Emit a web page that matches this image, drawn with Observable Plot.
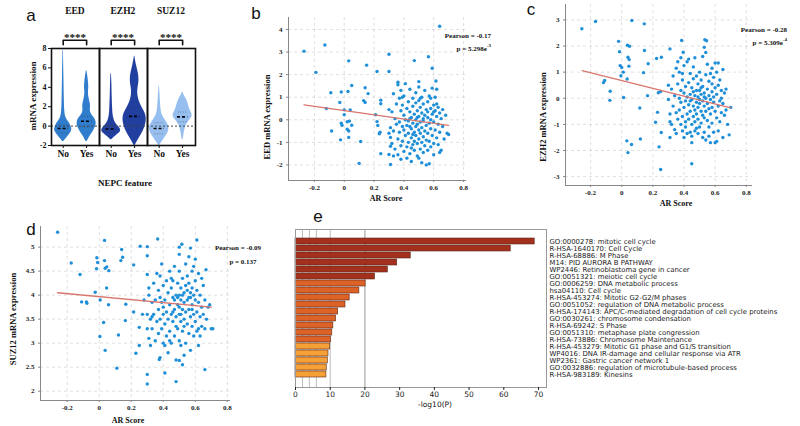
<!DOCTYPE html>
<html><head><meta charset="utf-8">
<script src="https://cdn.jsdelivr.net/npm/d3@7"></script>
<script src="https://cdn.jsdelivr.net/npm/@observablehq/plot@0.6"></script>
<style>
body{margin:0;background:#fff;}
#root{position:relative;width:800px;height:426px;overflow:hidden;background:#fff;}
.p{position:absolute;}
.t{position:absolute;white-space:nowrap;font-family:"Liberation Serif",serif;font-weight:bold;color:#111;line-height:1;}
.lt{position:absolute;white-space:nowrap;font-family:"Liberation Sans",Arial,sans-serif;font-size:17px;color:#111;line-height:1;}
</style></head><body><div id="root"></div>
<script>
// ---------------- Panel a: violin data ----------------
const genes = ["EED", "EZH2", "SUZ12"];
const groups = ["No", "Yes"];
const sigLabels = ["****", "****", "****"];
// [expression, half-width] profiles
const eedNo = [[-1.6,0.02],[-1.2,0.15],[-0.8,0.3],[-0.4,0.38],[-0.2,0.36],[0.2,0.3],[0.5,0.2],[0.9,0.1],[1.5,0.06],[3,0.045],[5,0.03],[7.8,0.01]];
const eedYes = [[-1.6,0.02],[-1,0.15],[-0.5,0.3],[0,0.4],[0.4,0.42],[0.8,0.35],[1.2,0.2],[1.6,0.14],[2.0,0.18],[2.4,0.15],[3,0.09],[3.5,0.07],[4.0,0.1],[4.5,0.08],[5.0,0.06],[5.7,0.01]];
const ezh2No = [[-1.4,0.02],[-1,0.2],[-0.6,0.42],[-0.3,0.4],[0,0.3],[0.4,0.15],[1,0.08],[1.8,0.06],[3,0.04],[4.5,0.03],[5.4,0.01]];
const ezh2Yes = [[-2,0.02],[-1.2,0.2],[-0.5,0.38],[0,0.45],[0.5,0.5],[1,0.5],[1.5,0.42],[2,0.3],[2.5,0.2],[3,0.15],[3.5,0.12],[4,0.15],[4.8,0.2],[5.5,0.16],[6.2,0.08],[7.2,0.01]];
const suz12No = [[-2,0.02],[-1.5,0.15],[-1,0.3],[-0.5,0.42],[0,0.42],[0.5,0.3],[1,0.15],[1.5,0.08],[2.5,0.05],[3.5,0.03],[4.1,0.01]];
const suz12Yes = [[-1.4,0.02],[-0.8,0.06],[0,0.12],[0.5,0.25],[0.9,0.42],[1.3,0.4],[1.7,0.3],[2.2,0.25],[2.6,0.2],[3,0.1],[3.5,0.01]];
const violinMedians = [-0.25, 0.5, -0.3, 1.0, -0.25, 0.95];
const violinQ1 = [-0.7, -0.1, -0.65, 0.1, -0.8, 0.45];
const violinQ3 = [0.1, 1.0, 0.05, 1.9, 0.35, 1.45];

// ---------------- Panels b, c, d: scatter data [AR score, expression] ----------------
const eedPoints = [
[-0.27,3.04],[-0.13,3.31],[-0.19,2.10],[0.03,2.61],[-0.12,0.50],[-0.09,1.20],[-0.085,-0.50],[-0.02,1.23],[-0.03,0.77],[-0.02,-0.15],[-0.015,-0.24],[-0.025,-0.89],[0.0,0.44],[0.0,0.22],[0.025,1.25],[0.05,1.52],[0.04,0.44],[0.02,-0.09],[0.035,-0.06],[0.05,-0.24],[0.02,-0.42],[0.03,-0.50],[0.03,-0.78],[0.15,2.42],[0.14,1.42],[0.16,1.16],[0.13,0.85],[0.14,0.77],[0.11,-0.96],[0.10,-1.93],[0.22,2.14],[0.21,0.22],[0.22,-0.08],[0.225,-0.25],[0.245,0.87],[0.245,0.71],[0.24,-0.55],[0.235,-0.62],[0.245,-1.50],[0.30,2.90],[0.30,2.14],[0.31,-1.17],[0.30,-1.54],[0.31,-1.98],[0.64,4.14],[0.47,2.62],[0.565,2.79],[0.59,2.28],[0.36,1.66],[0.50,1.69],[0.615,1.72],
[0.30,0.45],[0.31,-0.35],[0.31,-0.78],[0.32,0.35],[0.32,-1.05],[0.33,1.15],[0.33,-0.5],[0.34,0.05],[0.34,-1.3],[0.35,0.7],[0.35,-0.2],[0.36,-0.85],[0.36,1.55],[0.36,-1.55],[0.30,-0.6],[0.33,-1.6],
[0.37,0.95],[0.37,-0.1],[0.37,-0.55],[0.38,1.3],[0.38,0.4],[0.38,-1.15],[0.39,-0.3],[0.39,0.65],[0.39,-0.95],[0.40,1.05],[0.40,0.2],[0.40,-0.45],[0.40,-1.4],[0.41,0.0],[0.41,-0.7],[0.41,1.6],[0.42,0.5],[0.42,-0.25],[0.42,-1.2],[0.42,-1.7],[0.38,-1.75],[0.39,1.0],
[0.43,0.8],[0.43,-0.05],[0.43,-0.6],[0.43,-1.0],[0.44,0.35],[0.44,-0.3],[0.44,-1.5],[0.44,1.35],[0.45,0.1],[0.45,-0.8],[0.45,-0.4],[0.45,-1.85],[0.46,0.6],[0.46,-0.15],[0.46,-1.1],[0.46,0.95],[0.47,0.25],[0.47,-0.55],[0.47,-0.95],[0.47,-1.35],[0.48,0.0],[0.48,-0.3],[0.48,-0.7],[0.48,0.75],[0.48,1.2],[0.45,-1.25],[0.46,-0.65],[0.44,0.05],
[0.49,0.4],[0.49,-0.2],[0.49,-1.05],[0.49,-1.6],[0.50,0.15],[0.50,-0.45],[0.50,-0.85],[0.50,1.45],[0.50,0.85],[0.51,-0.1],[0.51,0.55],[0.51,-1.3],[0.51,-0.6],[0.52,0.3],[0.52,-0.35],[0.52,-1.0],[0.52,1.0],[0.53,-0.05],[0.53,0.7],[0.53,-0.75],[0.53,-1.45],[0.54,0.2],[0.54,-0.5],[0.54,-1.15],[0.54,1.3],[0.50,-1.7],[0.52,-1.9],[0.49,0.1],[0.51,0.95],[0.53,0.05],
[0.55,0.45],[0.55,-0.25],[0.55,-0.9],[0.55,-2.0],[0.56,0.1],[0.56,0.8],[0.56,-0.6],[0.56,-1.35],[0.57,1.05],[0.57,-0.15],[0.57,-0.95],[0.57,-1.95],[0.58,0.5],[0.58,-0.4],[0.58,-1.2],[0.58,0.95],[0.59,0.25],[0.59,-0.7],[0.59,1.4],[0.60,-0.1],[0.60,0.65],[0.60,-1.05],[0.60,-1.55],[0.56,0.35],[0.58,0.0],
[0.61,0.4],[0.61,-0.45],[0.61,1.0],[0.62,0.15],[0.62,-0.8],[0.62,0.7],[0.63,-0.2],[0.63,-1.1],[0.63,0.55],[0.64,0.3],[0.64,-0.55],[0.65,-1.35],[0.65,0.05],[0.66,0.45],[0.66,-0.3],[0.67,-0.85],[0.68,0.2],[0.69,-0.6],[0.70,-0.65],[0.62,1.35],[0.64,-1.45],[0.60,0.35]
];
const ezh2Points = [
[-0.256,2.66],[-0.168,2.94],[0.065,2.98],[0.145,2.85],[-0.02,2.18],[0.037,2.03],[0.05,1.99],[-0.014,1.78],[0.146,1.83],[0.04,1.57],[0.048,1.48],[0.224,1.52],[0.255,1.57],[0.17,1.32],[-0.01,1.25],[0.0,1.18],[0.046,1.23],[0.01,1.0],[0.14,0.98],[-0.005,0.86],[0.035,0.74],[-0.11,0.68],[-0.117,0.6],[-0.074,0.27],[-0.076,-0.08],[0.012,0.03],[0.166,0.1],[0.235,0.21],[0.25,0.26],[0.116,-0.37],[0.23,-0.54],[0.217,-0.92],[0.254,-1.31],[0.033,-1.63],[0.12,-1.56],[0.063,-1.77],[0.04,-2.08],[0.24,-1.86],[0.25,-2.73],[0.45,-2.51],[0.31,1.89],[0.385,2.21],[0.534,2.24],[0.545,2.2],[0.395,1.76],
[0.30,0.5],[0.30,-0.05],[0.31,-0.6],[0.31,-0.9],[0.32,0.35],[0.32,-1.0],[0.33,-0.3],[0.33,0.85],[0.34,-1.2],[0.34,0.1],[0.35,1.15],[0.35,-0.55],[0.36,0.55],[0.36,-0.8],[0.36,1.4],[0.31,-1.5],[0.35,-1.35],
[0.37,0.0],[0.37,-0.45],[0.37,1.0],[0.38,0.3],[0.38,-1.0],[0.38,-0.15],[0.38,1.55],[0.39,0.7],[0.39,-0.7],[0.39,-1.25],[0.40,0.2],[0.40,-0.35],[0.40,1.25],[0.40,-1.5],[0.41,0.45],[0.41,-0.9],[0.41,-0.1],[0.42,1.4],[0.42,-0.6],[0.42,0.05],[0.42,-1.35],[0.39,0.95],[0.41,-1.1],
[0.43,0.6],[0.43,-0.25],[0.43,-0.8],[0.43,1.5],[0.44,0.15],[0.44,-0.5],[0.44,-1.3],[0.44,0.95],[0.45,-0.05],[0.45,-1.0],[0.45,0.4],[0.45,-1.45],[0.46,0.75],[0.46,-0.3],[0.46,-0.7],[0.46,1.2],[0.47,0.1],[0.47,-0.9],[0.47,-0.45],[0.47,1.55],[0.48,0.3],[0.48,-0.15],[0.48,-1.15],[0.48,-0.6],[0.48,0.85],[0.44,-0.1],[0.46,0.25],[0.45,-1.7],[0.47,-1.25],
[0.49,0.05],[0.49,-0.35],[0.49,-0.8],[0.49,0.55],[0.50,-0.2],[0.50,0.3],[0.50,-1.1],[0.50,1.0],[0.51,-0.5],[0.51,0.15],[0.51,-0.95],[0.51,0.7],[0.52,-0.1],[0.52,-0.65],[0.52,0.45],[0.52,1.6],[0.53,-0.3],[0.53,0.2],[0.53,-1.3],[0.53,-0.75],[0.53,1.95],[0.54,0.0],[0.54,-0.5],[0.54,0.9],[0.54,-1.6],[0.50,-0.05],[0.52,-1.5],[0.51,0.4],[0.53,0.05],[0.49,-1.35],[0.54,1.75],
[0.55,0.35],[0.55,-0.2],[0.55,-0.85],[0.55,1.3],[0.56,-0.4],[0.56,0.1],[0.56,-1.1],[0.56,0.65],[0.57,-0.05],[0.57,-0.6],[0.57,0.95],[0.57,-1.7],[0.58,0.25],[0.58,-0.35],[0.58,-0.95],[0.58,0.55],[0.59,-0.15],[0.59,-1.3],[0.59,0.8],[0.60,0.4],[0.60,-0.5],[0.60,1.35],[0.60,-1.7],[0.56,-1.45],[0.58,1.15],[0.59,0.05],
[0.61,0.15],[0.61,-0.75],[0.61,1.0],[0.62,-0.3],[0.62,0.5],[0.62,-1.25],[0.63,0.7],[0.63,-0.1],[0.63,-0.9],[0.64,0.3],[0.64,-0.55],[0.65,1.1],[0.65,-0.2],[0.65,-1.5],[0.66,0.2],[0.66,-0.65],[0.67,0.35],[0.67,-0.45],[0.68,-1.0],[0.69,-1.4],[0.70,-0.35],[0.62,1.35],[0.64,0.0],[0.61,-1.65]
];
const suz12Points = [
[-0.26,5.31],[-0.175,4.67],[-0.12,4.43],[0.033,5.14],[0.14,4.95],[-0.015,4.78],[-0.01,4.68],[0.033,4.72],[0.146,4.79],[0.135,4.72],[-0.017,4.55],[0.037,4.56],[0.047,4.59],[0.06,4.51],[0.215,4.63],[0.046,4.15],[-0.025,4.06],[-0.11,3.86],[-0.08,3.86],[-0.077,3.83],[0.006,3.9],[0.058,3.8],[0.166,3.81],[0.215,3.65],[0.163,3.47],[0.027,3.43],[0.004,3.14],[0.12,3.17],[0.037,2.85],[0.11,2.48],[0.229,2.79],[0.25,2.95],[0.30,2.35],[0.30,2.15],[0.41,2.38],[0.48,2.2],[0.66,2.45],[0.375,2.66],[0.5,2.64],[0.71,3.3],[0.365,5.17],[0.256,5.02],[0.30,5.01],[0.30,4.82],[0.516,5.06],[0.50,5.0],[0.61,5.15],[0.57,4.98],[0.30,4.43],[0.667,4.53],[0.25,3.33],[0.27,3.6],[0.28,3.9],
[0.30,3.3],[0.30,3.6],[0.31,3.1],[0.31,4.0],[0.32,3.5],[0.32,2.95],[0.33,3.85],[0.33,3.3],[0.34,4.25],[0.34,3.6],[0.35,3.05],[0.35,3.9],[0.36,3.45],[0.36,4.45],[0.31,4.15],[0.33,3.55],
[0.37,3.7],[0.37,3.2],[0.37,4.1],[0.38,3.5],[0.38,2.7],[0.38,4.4],[0.39,3.85],[0.39,3.3],[0.39,4.65],[0.40,3.0],[0.40,3.6],[0.40,4.2],[0.41,3.4],[0.41,3.9],[0.41,2.95],[0.42,4.3],[0.42,3.65],[0.42,3.15],[0.38,3.95],[0.40,3.75],
[0.43,3.5],[0.43,4.05],[0.43,2.8],[0.44,3.8],[0.44,3.25],[0.44,4.5],[0.45,3.6],[0.45,4.15],[0.45,3.0],[0.46,3.45],[0.46,3.95],[0.46,4.3],[0.47,3.7],[0.47,3.15],[0.47,4.6],[0.48,3.55],[0.48,4.0],[0.48,2.65],[0.44,3.05],[0.46,3.65],[0.48,3.35],[0.45,4.35],[0.47,3.9],
[0.49,3.8],[0.49,3.3],[0.49,4.25],[0.50,3.6],[0.50,4.0],[0.50,3.05],[0.50,4.5],[0.51,3.45],[0.51,3.9],[0.51,4.15],[0.51,2.95],[0.52,3.7],[0.52,4.35],[0.52,3.25],[0.53,3.85],[0.53,4.05],[0.53,3.5],[0.53,2.75],[0.54,4.2],[0.54,3.65],[0.54,3.0],[0.54,4.65],[0.50,3.75],[0.52,4.0],[0.51,3.6],[0.49,3.95],[0.53,3.35],[0.52,2.55],[0.50,4.85],
[0.55,3.9],[0.55,3.4],[0.55,4.1],[0.55,4.4],[0.56,3.7],[0.56,3.2],[0.56,4.25],[0.56,4.8],[0.57,3.95],[0.57,3.55],[0.57,4.05],[0.57,2.85],[0.58,3.8],[0.58,4.5],[0.58,3.35],[0.58,4.15],[0.59,3.6],[0.59,4.0],[0.59,3.15],[0.60,3.9],[0.60,4.3],[0.60,3.45],[0.60,4.75],[0.56,3.95],[0.58,3.7],[0.59,4.6],
[0.61,3.65],[0.61,4.1],[0.61,3.25],[0.62,3.85],[0.62,4.45],[0.62,2.95],[0.63,3.55],[0.63,4.0],[0.64,3.35],[0.64,3.75],[0.65,3.6],[0.65,4.2],[0.66,3.3],[0.66,3.9],[0.67,3.5],[0.68,3.75],[0.69,3.8],[0.70,3.3],[0.62,3.3],[0.64,4.35],[0.63,3.15]
];
// fitted regression line end points [AR score, expression]
const eedFit = [[-0.27,0.66],[0.70,-0.25]];
const ezh2Fit = [[-0.254,1.06],[0.70,-0.37]];
const suz12Fit = [[-0.26,4.05],[0.70,3.75]];
const arTicks = [-0.2, 0, 0.2, 0.4, 0.6, 0.8];

// ---------------- Panel e: enrichment ----------------
const termLabels = ["GO:0000278: mitotic cell cycle","R-HSA-1640170: Cell Cycle","R-HSA-68886: M Phase","M14: PID AURORA B PATHWAY","WP2446: Retinoblastoma gene in cancer","GO:0051321: meiotic cell cycle","GO:0006259: DNA metabolic process","hsa04110: Cell cycle","R-HSA-453274: Mitotic G2-G2/M phases","GO:0051052: regulation of DNA metabolic process","R-HSA-174143: APC/C-mediated degradation of cell cycle proteins","GO:0030261: chromosome condensation","R-HSA-69242: S Phase","GO:0051310: metaphase plate congression","R-HSA-73886: Chromosome Maintenance","R-HSA-453279: Mitotic G1 phase and G1/S transition","WP4016: DNA IR-damage and cellular response via ATR","WP2361: Gastric cancer network 1","GO:0032886: regulation of microtubule-based process","R-HSA-983189: Kinesins"];
const termLogP = [68.9,62.0,33.2,29.3,26.6,22.9,20.2,18.4,15.6,14.4,12.3,11.7,10.9,10.6,10.2,10.0,9.5,9.3,9.0,8.9];
const termTier = [1,1,1,1,1,1,2,2,2,2,2,2,2,2,2,3,3,3,3,3];
const logPTicks = [0,10,20,30,40,50,60,70];
const logPGrid = [2,4,6,10];
const logPGridMajor = [20];

// ---------------- drawing ----------------
const root = document.getElementById("root");
function place(node, x, y) { node.classList.add("p"); node.style.left = x + "px"; node.style.top = y + "px"; root.appendChild(node); }
function txt(html, x, y, size, opts = {}) {
  const d = document.createElement("div");
  d.className = opts.cls || "t";
  d.innerHTML = html;
  d.style.left = x + "px"; d.style.top = y + "px";
  if (size) d.style.fontSize = size + "px";
  const ax = opts.anchor === "start" ? "0" : opts.anchor === "end" ? "-100%" : "-50%";
  d.style.transform = opts.rotate ? "translate(-50%,-50%) rotate(-90deg)" : `translate(${ax},-50%)`;
  if (opts.family) d.style.fontFamily = opts.family;
  if (opts.weight) d.style.fontWeight = opts.weight;
  root.appendChild(d);
}

// Panel a
const geneColors = {EED: "#2f7dcc", EZH2: "#213f9e", SUZ12: "#96bff0"};
const profiles = [eedNo, eedYes, ezh2No, ezh2Yes, suz12No, suz12Yes];
const violinRows = [];
profiles.forEach((prof, i) => {
  const gene = genes[Math.floor(i / 2)], c = i % 2;
  prof.forEach(([y, w]) => violinRows.push({gene, group: groups[c], c, y, w}));
});
const statRows = violinMedians.map((m, i) => ({gene: genes[Math.floor(i / 2)], c: i % 2, m, q1: violinQ1[i], q3: violinQ3[i]}));
const yTopA = 8;
const bracketRows = [];
genes.forEach(g => {
  bracketRows.push({gene: g, x: 0, y: yTopA + 0.38}, {gene: g, x: 0, y: yTopA + 0.85}, {gene: g, x: 1, y: yTopA + 0.85}, {gene: g, x: 1, y: yTopA + 0.38});
});
const plotA = Plot.plot({
  width: 200, height: 165, marginLeft: 50, marginRight: 5, marginTop: 48, marginBottom: 20,
  fx: {domain: genes, padding: 0, axis: null},
  x: {domain: [-0.5, 1.55]},
  y: {domain: [-2, 8]},
  style: {fontFamily: "Liberation Serif", fontWeight: "bold", fontSize: "8px", color: "#111", background: "transparent", overflow: "visible"},
  marks: [
    ...genes.map(g => Plot.areaX(violinRows.filter(r => r.gene === g), {fx: "gene", z: "group", y: "y", x1: d => d.c - d.w, x2: d => d.c + d.w, fill: geneColors[g], curve: "basis"})),
    Plot.ruleY([0], {stroke: "#444", strokeDasharray: "2,2", strokeWidth: 1}),
    Plot.ruleY(statRows, {fx: "gene", y: "q1", x1: d => d.c - 0.18, x2: d => d.c + 0.18, stroke: "#333", strokeOpacity: 0.45, strokeDasharray: "1,1.5"}),
    Plot.ruleY(statRows, {fx: "gene", y: "q3", x1: d => d.c - 0.18, x2: d => d.c + 0.18, stroke: "#333", strokeOpacity: 0.45, strokeDasharray: "1,1.5"}),
    Plot.ruleY(statRows, {fx: "gene", y: "m", x1: d => d.c - 0.22, x2: d => d.c + 0.22, stroke: "#000", strokeWidth: 1.6, strokeDasharray: "3,2"}),
    Plot.frame({stroke: "#111", strokeWidth: 1.6}),
    Plot.axisY({ticks: [-2, 0, 2, 4, 6, 8], tickSize: 3, tickPadding: 2, label: null, tickFormat: d => String(d), fontSize: 8}),
    Plot.axisX({ticks: [0, 1], tickFormat: d => groups[d], tickSize: 3, tickPadding: 2, label: null, fontSize: 9.5}),
    Plot.text(genes, {fx: d => d, x: 0.5, frameAnchor: "top", dy: -41, text: d => d, fontSize: 9.5}),
    Plot.text(genes.map((g, i) => ({gene: g, s: sigLabels[i]})), {fx: "gene", x: 0.5, frameAnchor: "top", dy: -15, text: "s", fontSize: 11}),
    Plot.line(bracketRows, {fx: "gene", z: "gene", x: "x", y: "y", stroke: "#111", strokeWidth: 1.6})
  ]
});
place(plotA, 0, 0);
txt("a", 31, 15, 17, {cls: "lt"});
txt("mRNA expression", 33, 96, 9, {rotate: true});
txt("NEPC feature", 125, 183, 9);

// scatter helper
function scatter(points, fit, o) {
  const data = points.map(([x, y]) => ({x, y}));
  const fitData = fit.map(([x, y]) => ({x, y}));
  return Plot.plot({
    width: o.width, height: o.height, marginLeft: o.ml, marginRight: o.mr, marginTop: o.mt, marginBottom: o.mb,
    x: {domain: o.xDomain},
    y: {domain: o.yDomain},
    style: {fontFamily: "Liberation Serif", fontWeight: "bold", fontSize: "7px", color: "#222", background: "transparent", overflow: "visible"},
    marks: [
      Plot.gridX({ticks: arTicks, stroke: "#999", strokeOpacity: 0.3, strokeDasharray: "3,3"}),
      Plot.gridY({ticks: o.yTicks, stroke: "#999", strokeOpacity: 0.3, strokeDasharray: "3,3"}),
      Plot.ruleX([o.xDomain[0]], {stroke: "#888", strokeWidth: 1}),
      Plot.ruleY([o.yDomain[0]], {stroke: "#888", strokeWidth: 1}),
      Plot.axisX({ticks: arTicks, tickSize: 2, tickPadding: 3, label: null, stroke: "#888", tickFormat: d => String(d)}),
      Plot.axisY({ticks: o.yTicks, tickSize: 2, tickPadding: 4, label: null, stroke: "#888", tickFormat: d => String(d)}),
      Plot.dot(data, {x: "x", y: "y", r: 1.7, fill: "#1f8fd8", stroke: "none"}),
      Plot.line(fitData, {x: "x", y: "y", stroke: "#d8756c", strokeWidth: 1.3})
    ]
  });
}

// Panel b
place(scatter(eedPoints, eedFit, {width: 240, height: 210, ml: 48, mr: 14, mt: 17, mb: 30, xDomain: [-0.374, 0.82], yDomain: [-2.69, 4.53], yTicks: [-2, -1, 0, 1, 2, 3, 4]}), 240, 0);
txt("b", 256, 13, 17, {cls: "lt"});
txt("EED mRNA expression", 267, 117, 8.5, {rotate: true});
txt("AR Score", 386, 199, 8);
txt("Pearson = -0.17", 491, 36, 7, {anchor: "end"});
txt("p = 5.298e<sup style='font-size:5px'>-3</sup>", 491, 48, 7, {anchor: "end"});

// Panel c
place(scatter(ezh2Points, ezh2Fit, {width: 275, height: 215, ml: 40, mr: 48, mt: 4, mb: 30, xDomain: [-0.361, 0.84], yDomain: [-3.34, 3.59], yTicks: [-3, -2, -1, 0, 1, 2, 3]}), 525, 0);
txt("c", 531, 9, 17, {cls: "lt"});
txt("EZH2 mRNA expression", 543, 117, 8.5, {rotate: true});
txt("AR Score", 676, 204, 8);
txt("Pearson = -0.28", 787, 30, 7, {anchor: "end"});
txt("p = 5.309e<sup style='font-size:5px'>-4</sup>", 787, 42, 7, {anchor: "end"});

// Panel d
place(scatter(suz12Points, suz12Fit, {width: 250, height: 211, ml: 40, mr: 20, mt: 11, mb: 26, xDomain: [-0.367, 0.82], yDomain: [1.806, 5.43], yTicks: [2, 2.5, 3, 3.5, 4, 4.5, 5]}), 0, 215);
txt("d", 31, 229, 17, {cls: "lt"});
txt("SUZ12 mRNA expression", 13, 319, 8.5, {rotate: true});
txt("AR Score", 128, 421, 8);
txt("Pearson = -0.09", 238, 248, 7);
txt("p = 0.137", 243, 262, 7);

// Panel e
const termRows = termLabels.map((label, i) => ({label, v: termLogP[i], tier: termTier[i]}));
const tierColors = {1: "#a3301d", 2: "#dd6227", 3: "#f5a137"};
const plotE = Plot.plot({
  width: 515, height: 211, marginLeft: 10, marginRight: 254, marginTop: 14, marginBottom: 39,
  x: {domain: [0, 72.3]},
  y: {domain: termLabels, paddingInner: 0.14, paddingOuter: 0.35},
  style: {fontFamily: "DejaVu Sans", fontSize: "8px", color: "#222", background: "transparent", overflow: "visible"},
  marks: [
    Plot.ruleX(logPGrid, {stroke: "#bbb", strokeWidth: 1}),
    Plot.ruleX(logPGridMajor, {stroke: "#999", strokeWidth: 1}),
    ...[1, 2, 3].map(t => Plot.barX(termRows.filter(r => r.tier === t), {x: "v", y: "label", fill: tierColors[t], stroke: "#5a2a1a", strokeWidth: 0.6})),
    Plot.frame({stroke: "#999"}),
    Plot.axisX({ticks: logPTicks, tickSize: 3, tickPadding: 1, label: null, fontSize: 7.5}),
    Plot.axisY({anchor: "right", tickSize: 0, tickPadding: 3, label: null, fontSize: 6.9})
  ]
});
place(plotE, 285, 215);
txt("e", 318, 216, 17, {cls: "lt"});
txt("-log10(P)", 435, 405, 7.5, {family: "DejaVu Sans", weight: "normal"});
</script></body></html>
